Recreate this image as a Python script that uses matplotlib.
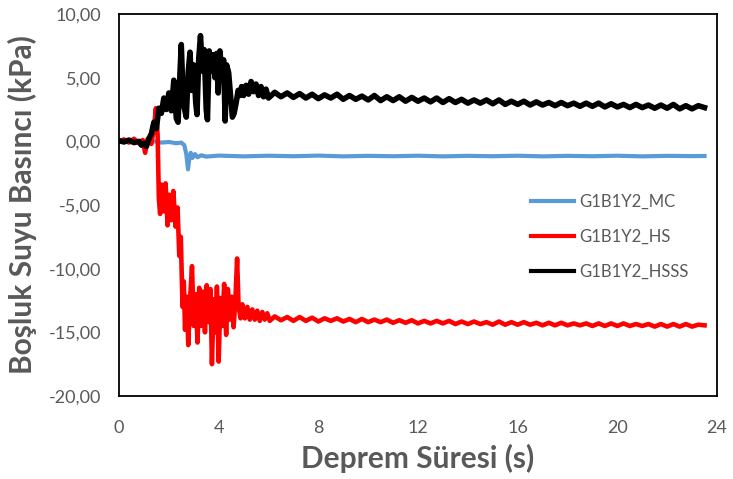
import matplotlib
matplotlib.use("Agg")
import matplotlib.pyplot as plt
from matplotlib.ticker import FuncFormatter

# --- data (time in s, pressure in kPa) ---
mc_t = [0.0, 0.5, 1.0, 1.5, 1.7, 2.0, 2.3, 2.5, 2.62, 2.7, 2.77, 2.82, 2.88, 2.95,
        3.05, 3.15, 3.3, 3.5, 4.0, 5.0, 6.0, 7.0, 8.0, 9.0, 10.0, 11.0, 12.0, 13.0,
        14.0, 15.0, 16.0, 17.0, 18.0, 19.0, 20.0, 21.0, 22.0, 23.0, 23.5]
mc_v = [0.0, 0.05, -0.05, 0.0, -0.1, -0.05, -0.15, -0.1, -0.3, -1.0, -2.2, -1.4, -0.9, -1.3,
        -1.0, -1.25, -1.1, -1.2, -1.12, -1.18, -1.13, -1.17, -1.12, -1.18, -1.14, -1.17, -1.13,
        -1.18, -1.14, -1.17, -1.13, -1.18, -1.14, -1.17, -1.13, -1.18, -1.14, -1.16, -1.15]

hs_t = [0.0, 0.2, 0.4, 0.6, 0.8, 0.95, 1.05, 1.15, 1.3, 1.4, 1.48, 1.55, 1.6, 1.65, 1.72,
        1.8, 1.87, 1.95, 2.02, 2.1, 2.18, 2.27, 2.35, 2.42, 2.48, 2.55, 2.6, 2.65, 2.72,
        2.78, 2.85, 2.93, 3.0, 3.08, 3.15, 3.22, 3.3, 3.38, 3.45, 3.52, 3.6, 3.67, 3.73,
        3.8, 3.87, 3.93, 4.0, 4.07, 4.15, 4.22, 4.3, 4.37, 4.45, 4.52, 4.6, 4.67, 4.74,
        4.8, 4.88, 4.95, 5.05, 5.15, 5.25, 5.35, 5.45, 5.55, 5.65, 5.75, 5.85, 5.95, 6.05,
        6.25, 6.5, 6.75, 7.0, 7.25, 7.5, 7.75, 8.0, 8.25, 8.5, 8.75, 9.0, 9.25, 9.5, 9.75,
        10.0, 10.25, 10.5, 10.75, 11.0, 11.25, 11.5, 11.75, 12.0, 12.25, 12.5, 12.75, 13.0,
        13.25, 13.5, 13.75, 14.0, 14.25, 14.5, 14.75, 15.0, 15.25, 15.5, 15.75, 16.0, 16.25,
        16.5, 16.75, 17.0, 17.25, 17.5, 17.75, 18.0, 18.25, 18.5, 18.75, 19.0, 19.25, 19.5,
        19.75, 20.0, 20.25, 20.5, 20.75, 21.0, 21.25, 21.5, 21.75, 22.0, 22.25, 22.5, 22.75,
        23.0, 23.25, 23.5]
hs_v = [0.0, 0.15, -0.1, 0.2, -0.15, 0.1, -0.9, 0.2, -0.2, 1.0, 2.6, 0.5, -4.5, -5.7, -3.4,
        -5.5, -3.3, -6.6, -4.2, -6.2, -3.9, -6.7, -5.2, -9.0, -7.5, -13.0, -11.0, -14.8, -12.2,
        -16.0, -12.5, -9.8, -14.5, -12.0, -15.8, -11.5, -14.5, -11.8, -15.0, -11.3, -14.2, -11.6, -17.5,
        -12.4, -15.0, -11.4, -17.3, -12.3, -14.5, -11.2, -15.2, -11.6, -14.0, -12.2, -14.6, -12.5, -9.2,
        -13.0, -13.9, -12.8, -13.9, -13.0, -14.0, -13.2, -14.0, -13.3, -14.1, -13.4, -14.0, -13.5, -14.1,
        -13.75, -14.05, -13.8, -14.1, -13.8, -14.1, -13.85, -14.15, -13.9, -14.1, -13.9, -14.15, -13.95, -14.2, -13.95,
        -14.2, -14.0, -14.2, -14.0, -14.25, -14.05, -14.25, -14.05, -14.3, -14.1, -14.3, -14.1, -14.3,
        -14.1, -14.35, -14.15, -14.35, -14.15, -14.35, -14.2, -14.4, -14.15, -14.4, -14.2, -14.4, -14.2,
        -14.4, -14.25, -14.45, -14.25, -14.45, -14.25, -14.45, -14.3, -14.45, -14.3, -14.5, -14.3, -14.5,
        -14.3, -14.5, -14.3, -14.5, -14.35, -14.5, -14.35, -14.55, -14.35, -14.55, -14.35, -14.55, -14.35,
        -14.55, -14.4, -14.45]

hsss_t = [0.0, 0.2, 0.4, 0.6, 0.8, 0.9, 1.0, 1.1, 1.2, 1.3, 1.4, 1.5, 1.6, 1.7, 1.8, 1.9,
          2.0, 2.1, 2.2, 2.3, 2.37, 2.45, 2.5, 2.58, 2.7, 2.78, 2.85, 2.92, 3.0, 3.08, 3.13,
          3.2, 3.27, 3.35, 3.42, 3.5, 3.55, 3.62, 3.7, 3.78, 3.85, 3.92, 3.98, 4.05, 4.12,
          4.2, 4.26, 4.32, 4.4, 4.48, 4.55, 4.62, 4.7, 4.78, 4.85, 4.92, 5.0, 5.1, 5.2, 5.3,
          5.4, 5.5, 5.6, 5.7, 5.8, 5.9, 6.0,
          6.25, 6.5, 6.75, 7.0, 7.25, 7.5, 7.75, 8.0, 8.25, 8.5, 8.75, 9.0, 9.25, 9.5, 9.75,
          10.0, 10.25, 10.5, 10.75, 11.0, 11.25, 11.5, 11.75, 12.0, 12.25, 12.5, 12.75, 13.0,
          13.25, 13.5, 13.75, 14.0, 14.25, 14.5, 14.75, 15.0, 15.25, 15.5, 15.75, 16.0, 16.25,
          16.5, 16.75, 17.0, 17.25, 17.5, 17.75, 18.0, 18.25, 18.5, 18.75, 19.0, 19.25, 19.5,
          19.75, 20.0, 20.25, 20.5, 20.75, 21.0, 21.25, 21.5, 21.75, 22.0, 22.25, 22.5, 22.75,
          23.0, 23.25, 23.5]
hsss_v = [0.05, -0.05, 0.1, -0.1, 0.0, -0.3, -0.15, -0.4, 0.2, 0.6, 1.5, 1.0, 2.6, 2.2, 3.4, 2.5,
          3.8, 2.4, 4.8, 1.8, 1.5, 5.5, 7.6, 3.0, 1.9, 5.5, 7.0, 4.0, 6.0, 3.0, 2.1,
          6.5, 8.3, 5.5, 7.2, 2.5, 1.7, 7.1, 5.5, 6.8, 5.0, 6.9, 3.8, 7.1, 5.6,
          6.4, 1.6, 6.0, 5.4, 3.5, 1.9, 2.2, 3.0, 4.0, 3.6, 4.3, 3.6, 4.4, 3.7, 4.7,
          3.9, 4.5, 3.6, 4.3, 3.5, 4.1, 3.4,
          3.85, 3.5, 3.8, 3.45, 3.75, 3.4, 3.7, 3.35, 3.65, 3.4, 3.7, 3.3, 3.6, 3.3, 3.55,
          3.25, 3.6, 3.2, 3.5, 3.2, 3.5, 3.15, 3.45, 3.15, 3.4, 3.1, 3.4, 3.05,
          3.35, 3.05, 3.3, 3.0, 3.25, 3.0, 3.25, 2.95, 3.25, 2.9, 3.15, 2.9, 3.15,
          2.85, 3.1, 2.85, 3.05, 2.8, 3.05, 2.8, 3.0, 2.75, 3.0, 2.75, 3.0, 2.7,
          2.95, 2.7, 2.9, 2.65, 2.9, 2.65, 2.85, 2.6, 2.85, 2.6, 2.9, 2.55, 2.8,
          2.55, 2.8, 2.65]

series_names = ["G1B1Y2_MC", "G1B1Y2_HS", "G1B1Y2_HSSS"]
series_colors = ["#5B9BD5", "#FF0000", "#000000"]
series_widths = [3.0, 3.3, 4.0]

x_ticks = [0, 4, 8, 12, 16, 20, 24]
y_ticks = [-20, -15, -10, -5, 0, 5, 10]

grey = "#595959"
plt.rcParams["font.family"] = ["Lato", "DejaVu Sans"]

fig = plt.figure(figsize=(7.33, 4.79), dpi=100)
ax = fig.add_axes([119 / 733, 1 - 396 / 479, 598 / 733, 382 / 479])

data = [(mc_t, mc_v), (hs_t, hs_v), (hsss_t, hsss_v)]
for (t, v), name, col, lw in zip(data, series_names, series_colors, series_widths):
    ax.plot(t, v, color=col, lw=lw, label=name, solid_joinstyle="round")

ax.set_xlim(0, 24)
ax.set_ylim(-20, 10)
ax.set_xticks(x_ticks)
ax.set_yticks(y_ticks)
ax.yaxis.set_major_formatter(FuncFormatter(lambda v, p: ("%.2f" % v).replace(".", ",")))
ax.tick_params(length=0, labelsize=13, labelcolor=grey)
ax.tick_params(axis="y", pad=13)
ax.tick_params(axis="x", pad=17)
for s in ax.spines.values():
    s.set_color("black")
    s.set_linewidth(1.3)

ax.set_xlabel("Deprem Süresi (s)", fontsize=21.5, fontweight="bold", color=grey, labelpad=6)
ax.set_ylabel("Boşluk Suyu Basıncı (kPa)", fontsize=21.5, fontweight="bold", color=grey, labelpad=8)

leg = ax.legend(loc="upper left", bbox_to_anchor=(0.675, 0.552), frameon=False,
                fontsize=12, handlelength=2.6, handletextpad=0.3, labelspacing=1.15,
                borderpad=0)
for txt in leg.get_texts():
    txt.set_color(grey)
for ln in leg.get_lines():
    ln.set_linewidth(3)

fig.savefig("out.png", dpi=100)
